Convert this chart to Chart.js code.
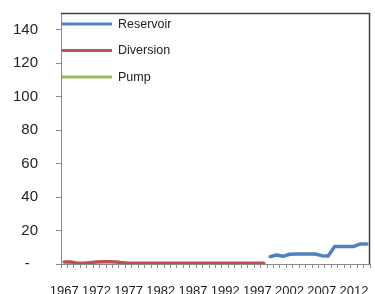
<!DOCTYPE html>
<html>
<head>
<meta charset="utf-8">
<script src="https://cdn.jsdelivr.net/npm/chart.js@4/dist/chart.umd.min.js"></script>
<style>
html,body{margin:0;padding:0;background:#fff;}
#wrap{width:375px;height:294px;position:relative;}
</style>
</head>
<body>
<div id="wrap"><canvas id="c" width="375" height="294"></canvas></div>
<script>
const years = [];
for (let y = 1967; y <= 2014; y++) years.push(String(y));

const seriesNames = ['Reservoir', 'Diversion', 'Pump'];
const seriesColors = ['#4F81BD', '#C0504D', '#9BBB59'];

// Diversion 1967-1998
const diversion = [1.2, 1.2, 0.5, 0.4, 0.8, 1.2, 1.3, 1.3, 1.2, 0.8,
  0.4, 0.4, 0.4, 0.4, 0.4, 0.4, 0.4, 0.4, 0.4, 0.4,
  0.4, 0.4, 0.4, 0.4, 0.4, 0.4, 0.4, 0.4, 0.4, 0.4, 0.4, 0.4,
  null, null, null, null, null, null, null, null, null, null, null, null, null, null, null, null];

// Reservoir 1999-2014
const reservoir = [null, null, null, null, null, null, null, null, null, null,
  null, null, null, null, null, null, null, null, null, null,
  null, null, null, null, null, null, null, null, null, null, null, null,
  4.4, 5.4, 4.6, 5.8, 6.0, 6.0, 6.0, 6.0, 5.0, 4.8, 10.4, 10.4, 10.4, 10.5, 12.0, 12.0];

const pump = years.map(() => null);

const yTicks = [0, 20, 40, 60, 80, 100, 120, 140];
const labelEvery = 5;

const FONT = "'Liberation Sans', Arial, sans-serif";

const frame = {
  id: 'frame',
  afterDatasetsDraw(chart) {
    const ctx = chart.ctx, a = chart.chartArea;
    ctx.save();
    ctx.strokeStyle = '#404040';
    ctx.lineWidth = 1.5;
    ctx.beginPath();
    ctx.moveTo(a.left, a.top + 0.5);
    ctx.lineTo(a.right - 0.5, a.top + 0.5);
    ctx.lineTo(a.right - 0.5, a.bottom);
    ctx.stroke();
    chart.data.datasets.forEach((ds, i) => {
      const y = a.top + 11 + i * 26.5;
      ctx.strokeStyle = ds.borderColor;
      ctx.lineWidth = 3;
      ctx.beginPath();
      ctx.moveTo(a.left + 1, y);
      ctx.lineTo(a.left + 51, y);
      ctx.stroke();
      ctx.fillStyle = '#222';
      ctx.font = '12.5px ' + FONT;
      ctx.textBaseline = 'middle';
      ctx.textAlign = 'left';
      ctx.fillText(ds.label, a.left + 57, y + 0.5);
    });
    ctx.restore();
  }
};

function zeroPad(s) { s.paddingTop = 0; s.paddingBottom = 0; s.paddingLeft = 0; s.paddingRight = 0; }

new Chart(document.getElementById('c'), {
  type: 'line',
  data: {
    labels: years,
    datasets: [
      { label: seriesNames[0], data: reservoir, borderColor: seriesColors[0], backgroundColor: seriesColors[0] },
      { label: seriesNames[1], data: diversion, borderColor: seriesColors[1], backgroundColor: seriesColors[1] },
      { label: seriesNames[2], data: pump, borderColor: seriesColors[2], backgroundColor: seriesColors[2] }
    ]
  },
  options: {
    responsive: false,
    animation: false,
    devicePixelRatio: 1,
    layout: { padding: { top: 13, right: 5, left: 0, bottom: 0 } },
    elements: {
      line: { borderWidth: 3.5, tension: 0, borderCapStyle: 'round', borderJoinStyle: 'round', fill: false },
      point: { radius: 0, hoverRadius: 0 }
    },
    plugins: { legend: { display: false }, tooltip: { enabled: false } },
    scales: {
      x: {
        offset: true,
        afterFit(s) { s.height = 30; zeroPad(s); },
        grid: { offset: true, drawOnChartArea: false, drawTicks: true, tickLength: 4, color: '#8c8c8c' },
        border: { color: '#8c8c8c', width: 1 },
        ticks: {
          autoSkip: false, maxRotation: 0, minRotation: 0, padding: 16,
          color: '#222', font: { family: FONT, size: 13 },
          callback(v, i) { return i % labelEvery === 0 ? years[i] : ''; }
        }
      },
      y: {
        min: 0, max: 150,
        afterFit(s) { s.width = 61; zeroPad(s); },
        afterBuildTicks(s) { s.ticks = yTicks.map(v => ({ value: v })); },
        grid: { drawOnChartArea: false, drawTicks: true, tickLength: 5, color: '#8c8c8c' },
        border: { color: '#8c8c8c', width: 1 },
        ticks: {
          padding: 18, color: '#222', font: { family: FONT, size: 15 },
          callback(v) { return v === 0 ? '-  ' : String(v); }
        }
      }
    }
  },
  plugins: [frame]
});
</script>
</body>
</html>
